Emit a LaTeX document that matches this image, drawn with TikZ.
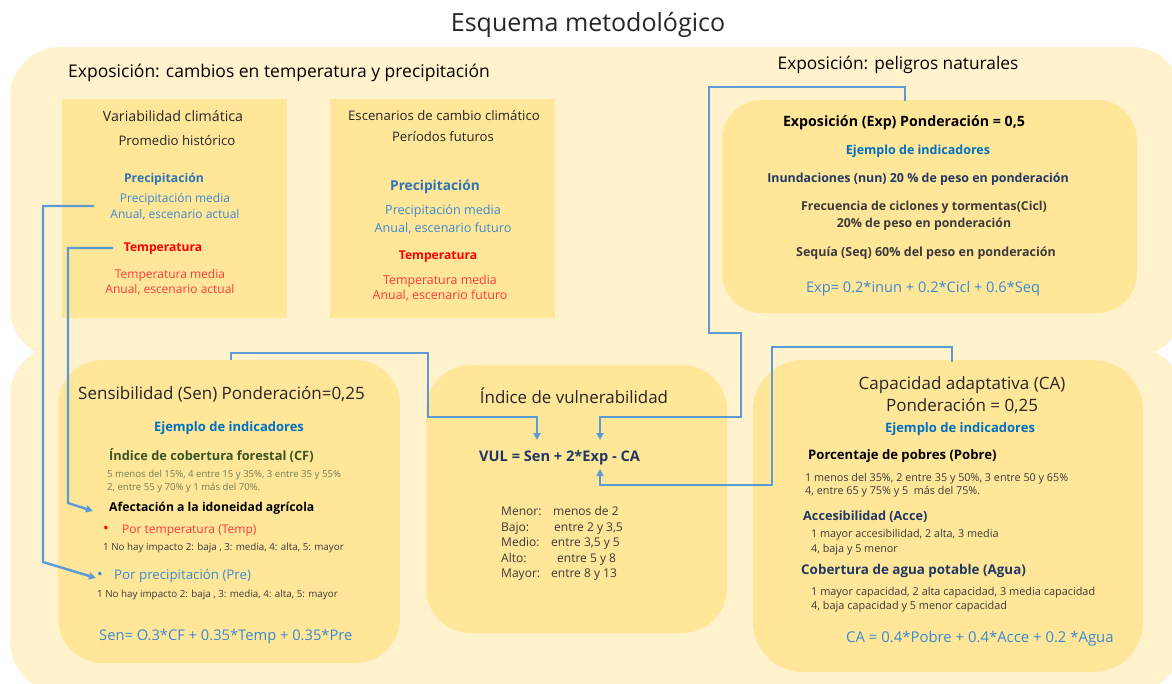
\documentclass[tikz,border=0pt]{standalone}
\usepackage{fontspec}
\setmainfont{Open Sans}
\usetikzlibrary{arrows.meta}
\definecolor{cream}{HTML}{FFF2CC}
\definecolor{gold}{HTML}{FFE699}
\definecolor{lnblue}{HTML}{5B9BD5}
\definecolor{tblue}{HTML}{2E75B6}
\definecolor{lblue}{HTML}{3A8AD0}
\definecolor{eblue}{HTML}{0070C0}
\definecolor{tred}{HTML}{FF0000}
\definecolor{lred}{HTML}{FF3B3B}
\definecolor{navy}{HTML}{1F3864}
\definecolor{dgreen}{HTML}{375623}
\definecolor{sgreen}{HTML}{6F7F52}
\definecolor{dark}{HTML}{262626}
\definecolor{dgray}{HTML}{3A3A3A}
\newcommand\fs[2]{\fontsize{#1}{#2}\selectfont}
\tikzset{
  txt/.style={inner sep=0pt, text=dark, yshift=-1.5pt},
  conn/.style={draw=lnblue, line width=2.4pt},
  arr/.style={conn, -{Triangle[length=7pt,width=7pt]}},
  sqbox/.style={fill=gold, inner sep=0pt, draw=none},
  rbox/.style={fill=gold, inner sep=0pt, draw=none, rounded corners=#1},
  bgpanel/.style={fill=cream, rounded corners=50pt},
}
\begin{document}
\begin{tikzpicture}[x=1pt,y=-1pt]
\useasboundingbox (0,0) rectangle (1172,683);
\clip (0,0) rectangle (1172,683);
% background panels
\fill[bgpanel] (10,47) rectangle (1182,358);
\fill[bgpanel] (10,346) rectangle (1182,692);
% boxes
\node[sqbox, minimum width=225pt, minimum height=219pt] (var) at (174.5,208) {};
\node[sqbox, minimum width=225pt, minimum height=219pt] (esc) at (442.5,208) {};
\node[rbox=40pt, minimum width=415pt, minimum height=213pt] (exp) at (929.5,206.5) {};
\node[rbox=45pt, minimum width=342pt, minimum height=303pt] (sen) at (229,511.5) {};
\node[rbox=45pt, minimum width=301pt, minimum height=268pt] (vul) at (576.5,499) {};
\node[rbox=50pt, minimum width=390pt, minimum height=312pt] (ca) at (948,516) {};

% titles
\node[txt, font=\fs{25}{30}] (title) at (588,23.5) {Esquema metodológico};
\node[txt, anchor=west, text=black, font=\fs{17.5}{21}] (h1) at (68,71) {Exposición: cambios en temperatura y precipitación};
\node[txt, text=black, font=\fs{17.3}{21}] (h2) at (898,63) {Exposición: peligros naturales};

% variabilidad
\node[txt, font=\fs{14.2}{17}] (v1) at (173,115) {Variabilidad climática};
\node[txt, font=\fs{13.2}{16}] (v2) at (177,139) {Promedio histórico};
\node[txt, text=tblue, font=\bfseries\fs{12.2}{15}] (v3) at (164,178) {Precipitación};
\node[txt, text=lblue, font=\fs{12}{16}, align=center] (v4) at (175,205) {Precipitación media\\Anual, escenario actual};
\node[txt, text=tred, font=\bfseries\fs{12.1}{15}] (v5) at (163,247) {Temperatura};
\node[txt, text=lred, font=\fs{12}{15}, align=center] (v6) at (170,280.5) {Temperatura media\\Anual, escenario actual};

% escenarios
\node[txt, font=\fs{13.2}{16}] (e1) at (444,114) {Escenarios de cambio climático};
\node[txt, font=\fs{13.1}{16}] (e2) at (443,135) {Períodos futuros};
\node[txt, text=tblue, font=\bfseries\fs{13.7}{16}] (e3) at (435,185) {Precipitación};
\node[txt, text=lblue, font=\fs{12.6}{17.5}, align=center] (e4) at (443,218) {Precipitación media\\Anual, escenario futuro};
\node[txt, text=tred, font=\bfseries\fs{12.1}{15}] (e5) at (438,255) {Temperatura};
\node[txt, text=lred, font=\fs{12.4}{15.5}, align=center] (e6) at (440,286.5) {Temperatura media\\Anual, escenario futuro};

% exposicion peligros
\node[txt, text=black, font=\bfseries\fs{14.2}{17}] (x1) at (904,121) {Exposición (Exp) Ponderación = 0,5};
\node[txt, text=eblue, font=\bfseries\fs{12.5}{15}] (x2) at (918,150) {Ejemplo de indicadores};
\node[txt, text=navy, font=\bfseries\fs{12.4}{15}] (x3) at (918,178) {Inundaciones (nun) 20 \% de peso en ponderación};
\node[txt, text=dgray, font=\bfseries\fs{12.3}{17}, align=center] (x4) at (924,214.5) {Frecuencia de ciclones y tormentas(Cicl)\\20\% de peso en ponderación};
\node[txt, text=dgray, font=\bfseries\fs{12.5}{15}] (x5) at (926,252) {Sequía (Seq) 60\% del peso en ponderación};
\node[txt, text=lblue, font=\fs{14.6}{17}] (x6) at (923,287) {Exp= 0.2*inun + 0.2*Cicl + 0.6*Seq};

% sensibilidad
\node[txt, anchor=west, font=\fs{17}{20}] (s1) at (78,393) {Sensibilidad (Sen) Ponderación=0,25};
\node[txt, text=eblue, font=\bfseries\fs{13}{16}] (s2) at (229,427) {Ejemplo de indicadores};
\node[txt, anchor=west, text=dgreen, font=\bfseries\fs{12.8}{15}] (s3) at (109,454) {Índice de cobertura forestal (CF)};
\node[txt, anchor=west, text=sgreen, font=\fs{9.6}{13}, align=left] (s4) at (107,479.5) {5 menos del 15\%, 4 entre 15 y 35\%, 3 entre 35 y 55\%\\2, entre 55 y 70\% y 1 más del 70\%.};
\node[txt, anchor=west, text=black, font=\bfseries\fs{12.2}{15}] (s5) at (109,507) {Afectación a la idoneidad agrícola};
\node[txt, text=tred, font=\fs{15}{15}] (s6b) at (106,528) {•};
\node[txt, anchor=west, text=lred, font=\fs{12}{15}] (s6) at (122,529) {Por temperatura (Temp)};
\node[txt, anchor=west, text=dgray, font=\fs{9.8}{12}] (s7) at (103,546) {1 No hay impacto 2: baja , 3: media, 4: alta, 5: mayor};
\node[txt, text=lblue, font=\fs{15}{15}] (s8b) at (100,574) {•};
\node[txt, anchor=west, text=lblue, font=\fs{13.3}{16}] (s8) at (114,574) {Por precipitación (Pre)};
\node[txt, anchor=west, text=dgray, font=\fs{9.8}{12}] (s9) at (97,593) {1 No hay impacto 2: baja , 3: media, 4: alta, 5: mayor};
\node[txt, anchor=west, text=lblue, font=\fs{14.7}{17}] (s10) at (99,635) {Sen= O.3*CF + 0.35*Temp + 0.35*Pre};

% vulnerabilidad
\node[txt, font=\fs{16.9}{20}] (u1) at (574,394) {Índice de vulnerabilidad};
\node[txt, anchor=west, text=navy, font=\bfseries\fs{14.6}{17}] (u2) at (479,456) {VUL = Sen + 2*Exp - CA};
\node[txt, anchor=west, text=dgray, font=\fs{12}{15.5}, align=left] (u3) at (501,542) {\makebox[52pt][l]{Menor:}menos de 2\\\makebox[53pt][l]{Bajo:}entre 2 y 3,5\\\makebox[50pt][l]{Medio:}entre 3,5 y 5\\\makebox[56pt][l]{Alto:}entre 5 y 8\\\makebox[50pt][l]{Mayor:}entre 8 y 13};

% capacidad adaptativa
\node[txt, font=\fs{17}{22}, align=center] (c1) at (962,394) {Capacidad adaptativa (CA)\\Ponderación = 0,25};
\node[txt, text=eblue, font=\bfseries\fs{13}{16}] (c2) at (960,428) {Ejemplo de indicadores};
\node[txt, anchor=west, text=black, font=\bfseries\fs{13.1}{16}] (c3) at (808,455) {Porcentaje de pobres (Pobre)};
\node[txt, anchor=west, text=dgray, font=\fs{10.8}{13.5}, align=left] (c4) at (805,483.5) {1 menos del 35\%, 2 entre 35 y 50\%, 3 entre 50 y 65\%\\4, entre 65 y 75\% y 5~ más del 75\%.};
\node[txt, anchor=west, text=navy, font=\bfseries\fs{12.7}{15}] (c5) at (803,515.5) {Accesibilidad (Acce)};
\node[txt, anchor=west, text=dgray, font=\fs{10.8}{15}, align=left] (c6) at (811,540.5) {1 mayor accesibilidad, 2 alta, 3 media\\4, baja y 5 menor};
\node[txt, anchor=west, text=navy, font=\bfseries\fs{13.4}{16}] (c7) at (801,570) {Cobertura de agua potable (Agua)};
\node[txt, anchor=west, text=dgray, font=\fs{10.9}{14.5}, align=left] (c8) at (811,598) {1 mayor capacidad, 2 alta capacidad, 3 media capacidad\\4, baja capacidad y 5 menor capacidad};
\node[txt, anchor=west, text=lblue, font=\fs{14.9}{17}] (c9) at (846,637) {CA = 0.4*Pobre + 0.4*Acce + 0.2 *Agua};

% connector coordinates
\coordinate (p1) at (94,206);
\coordinate (b1) at (43,562);
\coordinate (a1) at (96,578);
\coordinate (p2) at (113,248);
\coordinate (b2) at (68,503);
\coordinate (a2) at (93,511);
\coordinate (k3) at (428,353);
\coordinate (k4) at (537,417);
\coordinate (a3) at (537,440);
\coordinate (k5) at (905,101);
\coordinate (k6) at (709,87);
\coordinate (k7) at (741,333);
\coordinate (k8) at (600,417);
\coordinate (a4) at (600,440);
\coordinate (k10) at (952,362);
\coordinate (k11) at (772,347);
\coordinate (k12) at (600,485);
\coordinate (a5) at (600,469);

% connectors
\draw[arr] (p1) -| (b1) -- (a1);
\draw[arr] (p2) -| (b2) -- (a2);
\draw[arr] (sen.north -| 231,0) |- (k3) |- (k4) -- (a3);
\draw[arr] (k5) |- (k6) |- (k7) |- (k8) -- (a4);
\draw[arr] (k10) |- (k11) |- (k12) -- (a5);
\end{tikzpicture}
\end{document}
